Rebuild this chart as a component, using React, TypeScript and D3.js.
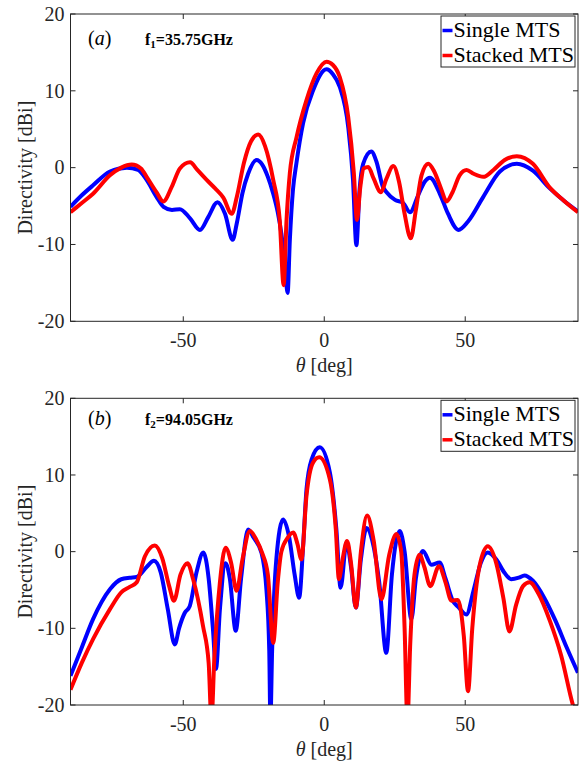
import React from "react";
import * as d3 from "d3";

// ---------- data ----------
const X_TICKS = [-50, 0, 50];
const Y_TICKS = [-20, -10, 0, 10, 20];
const SERIES_NAMES = ["Single MTS", "Stacked MTS"];
const PANEL_LABELS = ["a", "b"];
const PANEL_FREQ_INDEX = ["1", "2"];
const PANEL_FREQ = ["=35.75GHz", "=94.05GHz"];

// panel (a) f1 = 35.75 GHz
const A_SINGLE_THETA = [-90, -86, -82, -76, -70, -66, -63, -59.5, -57, -54, -51.2, -47.6, -44.1, -41.1, -37.9, -35.2, -32.5, -31, -29, -27, -24, -22, -20, -18.1, -16.5, -15.2, -14, -13, -12.2, -11.1, -9.9, -7.5, -3.9, 0.8, 3, 5.5, 8.5, 10.2, 11.4, 12.5, 13.8, 16.7, 18.5, 20.8, 22.1, 25.1, 28, 30.4, 33.3, 35.5, 37.5, 41, 43.9, 47.6, 51, 56.4, 62.3, 68.3, 74, 80, 85, 90];
const A_SINGLE_DIR = [-5.1, -3.6, -2.3, -0.5, 0.0, -0.3, -1.6, -3.8, -5.1, -5.5, -5.4, -6.6, -8.1, -6.4, -4.5, -6.0, -9.4, -7.2, -3.3, -0.8, 1.0, 0.4, -1.2, -3.4, -5.8, -8.6, -12.5, -16.3, -9.4, -2.9, 0.5, 5.8, 10.1, 12.8, 12.2, 10.5, 5.3, -1.6, -10.1, -3.0, 0.5, 2.1, 0.8, -2.5, -3.2, -4.2, -4.6, -5.8, -3.6, -1.9, -1.3, -3.4, -6.0, -8.1, -7.0, -3.8, -0.5, 0.5, -0.4, -2.7, -4.3, -5.7];

const A_STACKED_THETA = [-90, -86, -82, -76, -72, -68.3, -65, -63, -59.5, -57.1, -54.1, -51.2, -47.6, -45, -41.7, -38.7, -35.8, -32.8, -31, -28.5, -26, -23.4, -21, -18.1, -15.8, -14.4, -13.4, -12.2, -9.8, -6.3, -2.7, 0.8, 3, 5.5, 8.5, 10.5, 11.6, 12.8, 14, 15.6, 17.5, 20.1, 22, 24.5, 26.5, 28.5, 30.7, 32.5, 34.5, 36.9, 39, 41.5, 43.4, 45.5, 48, 50.5, 53, 56.4, 60, 64, 68.3, 74, 80, 85, 90];
const A_STACKED_DIR = [-5.8, -4.6, -3.4, -1.0, 0.0, 0.4, -0.1, -1.2, -3.2, -4.4, -2.5, -0.1, 0.7, -0.3, -1.6, -2.7, -3.9, -6.0, -3.8, 0.6, 3.4, 4.3, 2.8, -1.6, -6.8, -15.3, -7.0, -0.7, 4.0, 8.8, 12.3, 13.8, 13.4, 11.8, 6.6, -0.7, -6.8, -2.5, -0.1, 0.1, -1.4, -3.2, -1.5, 0.2, -1.8, -6.0, -9.2, -5.5, -1.0, 0.5, -0.5, -2.8, -4.4, -3.2, -1.0, -0.3, -0.8, -1.2, -0.3, 1.0, 1.5, 0.5, -2.6, -4.3, -5.8];

// panel (b) f2 = 94.05 GHz
const B_SINGLE_THETA = [-90, -86, -82, -76, -72, -69, -66.5, -63, -60.4, -58, -55.5, -53, -51.5, -49.5, -47.7, -45.3, -42.9, -41, -39.5, -38.4, -37, -35, -33.5, -31.4, -29.5, -27, -25, -22.3, -20.5, -19.5, -19.1, -18.5, -17, -14.6, -12.5, -10.5, -8.9, -7.5, -6.3, -4.5, -1.6, 2, 4.3, 5.8, 7.9, 9.5, 11.2, 13, 15, 17, 19.5, 22, 24, 26.8, 28.5, 30.9, 32.5, 35, 38, 40.9, 43, 45.6, 47.5, 50.4, 53, 55.5, 58, 61, 64, 66.3, 69, 71, 74, 78, 82, 86, 90];
const B_SINGLE_DIR = [-16.2, -12.5, -8.8, -4.9, -3.6, -3.4, -3.3, -2.0, -1.2, -2.7, -7.5, -12.1, -10.0, -8.0, -7.1, -2.7, -0.1, -3.5, -10.0, -15.3, -7.5, -1.5, -3.5, -10.3, -3.5, 2.9, 1.8, -0.1, -5.0, -13.0, -22.0, -13.0, -1.0, 4.2, 2.0, -3.0, -6.0, 0.7, 8.1, 12.0, 13.6, 10.3, 2.9, -4.7, 1.2, -2.0, -7.3, -1.0, 3.1, 1.5, -4.0, -13.2, -3.0, 2.7, 0.0, -8.8, -3.5, 0.1, -1.7, -1.4, -3.5, -6.4, -7.2, -8.2, -5.0, -1.5, -0.1, -1.0, -2.8, -3.6, -3.4, -3.1, -3.8, -6.0, -9.0, -12.5, -15.8];

const B_STACKED_THETA = [-90, -86, -82, -76, -72, -69, -66.5, -63.6, -60.1, -57.5, -55, -53.3, -51, -48.5, -46.5, -43, -41, -40, -39, -37, -35, -33, -31.1, -29, -26.4, -24, -22, -20, -18.1, -16.5, -15.2, -13, -11, -9.5, -8.1, -6.3, -4, -1.8, 2, 4.1, 5.2, 6.5, 8.1, 9.5, 11.2, 13, 15.2, 17.5, 20.3, 23, 25.6, 27.3, 28.5, 29.5, 30.5, 32, 33.8, 35.5, 37.6, 40.7, 43, 45.1, 47.4, 49.5, 51, 52.5, 55, 58, 61, 63.5, 65.7, 68, 70.5, 72.8, 76, 80, 84, 88.2, 90];
const B_STACKED_DIR = [-18.0, -14.5, -11.4, -7.5, -5.3, -4.6, -4.0, -0.6, 0.8, -0.8, -4.5, -6.4, -3.0, -1.5, -3.6, -9.7, -14.5, -22.0, -14.0, -4.0, 0.5, -1.5, -5.1, -1.0, 2.7, 1.5, -0.2, -3.0, -11.9, -4.0, 0.0, 1.8, 2.5, 1.0, -1.0, 7.3, 11.6, 12.3, 9.4, 2.9, -3.6, -1.0, 1.4, -1.5, -7.3, 0.0, 4.7, 1.5, -6.2, -0.5, 2.3, 0.0, -10.0, -22.0, -12.0, -3.0, -0.4, -2.0, -4.5, -1.9, -4.0, -6.4, -6.3, -11.0, -18.2, -10.0, -2.0, 0.7, -1.5, -6.0, -10.4, -7.0, -4.5, -4.0, -5.5, -9.0, -13.5, -20.0, -22.0];

// ---------- layout ----------
const W = 585;
const H = 763;
const LEFT = 70.5;
const RIGHT = 578;
const PANELS = [
  { top: 14, bottom: 321.3, labelY: 44.5 },
  { top: 398.3, bottom: 705, labelY: 424.5 },
];
const FONT = "'Liberation Serif', 'Times New Roman', serif";
const COLORS = ["#0000ff", "#ff0000"];
const AXIS = "#262626";

type SeriesData = { theta: number[]; dir: number[] };

function Panel({ idx, series }: { idx: number; series: SeriesData[] }) {
  const p = PANELS[idx];
  const x = d3.scaleLinear().domain([-90, 90]).range([LEFT, RIGHT]);
  const y = d3.scaleLinear().domain([-20, 20]).range([p.bottom, p.top]);
  const line = d3
    .line<[number, number]>()
    .x((d) => x(d[0]))
    .y((d) => y(d[1]))
    .curve(d3.curveMonotoneX);
  const clipId = `clip-${idx}`;
  const tickLen = 5;
  const lt = p.top + 2; // legend top
  return (
    <g>
      <defs>
        <clipPath id={clipId}>
          <rect x={LEFT} y={p.top} width={RIGHT - LEFT} height={p.bottom - p.top} />
        </clipPath>
      </defs>
      <g clipPath={`url(#${clipId})`}>
        {series.map((s, i) => (
          <path
            key={i}
            d={line(s.theta.map((t, k) => [t, s.dir[k]] as [number, number])) || ""}
            fill="none"
            stroke={COLORS[i]}
            strokeWidth={4}
            strokeLinejoin="round"
          />
        ))}
      </g>
      {/* box */}
      <rect x={LEFT} y={p.top} width={RIGHT - LEFT} height={p.bottom - p.top} fill="none" stroke={AXIS} strokeWidth={1} />
      {/* x ticks */}
      {X_TICKS.map((t) => (
        <g key={`x${t}`}>
          <line x1={x(t)} x2={x(t)} y1={p.bottom} y2={p.bottom - tickLen} stroke={AXIS} />
          <line x1={x(t)} x2={x(t)} y1={p.top} y2={p.top + tickLen} stroke={AXIS} />
          <text x={x(t)} y={p.bottom + 25.5} textAnchor="middle" fontFamily={FONT} fontSize={20} fill="#262626">
            {t}
          </text>
        </g>
      ))}
      {/* y ticks */}
      {Y_TICKS.map((t) => (
        <g key={`y${t}`}>
          <line x1={LEFT} x2={LEFT + tickLen} y1={y(t)} y2={y(t)} stroke={AXIS} />
          <line x1={RIGHT} x2={RIGHT - tickLen} y1={y(t)} y2={y(t)} stroke={AXIS} />
          <text x={LEFT - 6} y={y(t) + 6.8} textAnchor="end" fontFamily={FONT} fontSize={20} fill="#262626">
            {t}
          </text>
        </g>
      ))}
      {/* axis labels */}
      <text x={(LEFT + RIGHT) / 2} y={p.bottom + 51} textAnchor="middle" fontFamily={FONT} fontSize={20} fill="#262626">
        <tspan fontStyle="italic">θ</tspan>
        <tspan> [deg]</tspan>
      </text>
      <text
        transform={`translate(32, ${(p.top + p.bottom) / 2}) rotate(-90)`}
        textAnchor="middle"
        fontFamily={FONT}
        fontSize={20}
        fill="#262626"
      >
        Directivity [dBi]
      </text>
      {/* annotations */}
      <text x={88} y={p.labelY} fontFamily={FONT} fontSize={20} fill="#000">
        <tspan>(</tspan>
        <tspan fontStyle="italic">{PANEL_LABELS[idx]}</tspan>
        <tspan>)</tspan>
      </text>
      <text x={145} y={p.labelY} fontFamily={FONT} fontSize={16} fontWeight="bold" fill="#000">
        <tspan>f</tspan>
        <tspan fontSize={11} dy={3}>{PANEL_FREQ_INDEX[idx]}</tspan>
        <tspan dy={-3}>{PANEL_FREQ[idx]}</tspan>
      </text>
      {/* legend */}
      <rect x={441} y={lt} width={134} height={51} fill="#fff" stroke={AXIS} strokeWidth={1} />
      {SERIES_NAMES.map((n, i) => (
        <g key={n}>
          <line x1={442.5} x2={452.5} y1={lt + 14.5 + i * 25} y2={lt + 14.5 + i * 25} stroke={COLORS[i]} strokeWidth={3.5} />
          <text x={453.5} y={lt + 21 + i * 25} fontFamily={FONT} fontSize={22} fill="#000">
            {n}
          </text>
        </g>
      ))}
    </g>
  );
}

export default function App() {
  const top: SeriesData[] = [
    { theta: A_SINGLE_THETA, dir: A_SINGLE_DIR },
    { theta: A_STACKED_THETA, dir: A_STACKED_DIR },
  ];
  const bottom: SeriesData[] = [
    { theta: B_SINGLE_THETA, dir: B_SINGLE_DIR },
    { theta: B_STACKED_THETA, dir: B_STACKED_DIR },
  ];
  return (
    <svg
      width={W}
      height={H}
      viewBox={`0 0 ${W} ${H}`}
      style={{ position: "absolute", left: 0, top: 0, background: "#fff" }}
    >
      <rect width={W} height={H} fill="#fff" />
      <Panel idx={0} series={top} />
      <Panel idx={1} series={bottom} />
    </svg>
  );
}
